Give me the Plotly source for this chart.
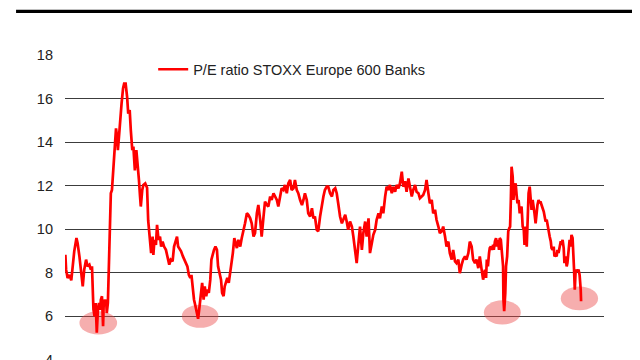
import plotly.graph_objects as go

# Decimal years and P/E ratio values
year = [
    2008.34, 2008.36, 2008.40, 2008.45, 2008.50, 2008.55, 2008.58, 2008.64, 2008.67, 2008.72,
    2008.76, 2008.81, 2008.85, 2008.90, 2008.94, 2008.99, 2009.03, 2009.06, 2009.09, 2009.10,
    2009.13, 2009.16, 2009.18, 2009.19, 2009.22, 2009.25, 2009.28, 2009.30, 2009.33, 2009.36,
    2009.38, 2009.41, 2009.44, 2009.46, 2009.49, 2009.52, 2009.55, 2009.57, 2009.60, 2009.63,
    2009.65, 2009.68, 2009.71, 2009.74, 2009.76, 2009.79, 2009.82, 2009.86, 2009.90, 2009.93,
    2009.97, 2010.01, 2010.04, 2010.08, 2010.11, 2010.15, 2010.18, 2010.22, 2010.26, 2010.29,
    2010.33, 2010.36, 2010.38, 2010.42, 2010.45, 2010.50, 2010.55, 2010.58, 2010.63, 2010.66,
    2010.70, 2010.72, 2010.75, 2010.79, 2010.82, 2010.86, 2010.90, 2010.93, 2010.97, 2011.01,
    2011.06, 2011.10, 2011.15, 2011.19, 2011.24, 2011.28, 2011.31, 2011.36, 2011.39, 2011.44,
    2011.47, 2011.52, 2011.56, 2011.60, 2011.64, 2011.68, 2011.72, 2011.75, 2011.79, 2011.82,
    2011.86, 2011.90, 2011.93, 2011.97, 2012.01, 2012.04, 2012.08, 2012.11, 2012.15, 2012.18,
    2012.22, 2012.26, 2012.29, 2012.33, 2012.36, 2012.40, 2012.44, 2012.47, 2012.51, 2012.55,
    2012.58, 2012.62, 2012.65, 2012.69, 2012.72, 2012.76, 2012.80, 2012.83, 2012.87, 2012.91,
    2012.98, 2013.02, 2013.07, 2013.11, 2013.16, 2013.20, 2013.25, 2013.29, 2013.34, 2013.38,
    2013.43, 2013.47, 2013.52, 2013.56, 2013.61, 2013.65, 2013.70, 2013.74, 2013.79, 2013.83,
    2013.88, 2013.92, 2013.97, 2014.01, 2014.06, 2014.10, 2014.15, 2014.19, 2014.24, 2014.28,
    2014.33, 2014.37, 2014.42, 2014.46, 2014.51, 2014.55, 2014.60, 2014.64, 2014.69, 2014.74,
    2014.78, 2014.82, 2014.87, 2014.91, 2014.96, 2015.01, 2015.05, 2015.09, 2015.14, 2015.18,
    2015.23, 2015.28, 2015.32, 2015.36, 2015.41, 2015.45, 2015.50, 2015.55, 2015.59, 2015.64,
    2015.68, 2015.72, 2015.77, 2015.82, 2015.86, 2015.91, 2015.95, 2015.99, 2016.04, 2016.09,
    2016.13, 2016.18, 2016.22, 2016.26, 2016.31, 2016.36, 2016.40, 2016.45, 2016.49, 2016.54,
    2016.58, 2016.63, 2016.67, 2016.72, 2016.76, 2016.81, 2016.85, 2016.90, 2016.94, 2016.99,
    2017.03, 2017.08, 2017.12, 2017.17, 2017.21, 2017.26, 2017.30, 2017.35, 2017.39, 2017.44,
    2017.48, 2017.53, 2017.57, 2017.62, 2017.66, 2017.71, 2017.75, 2017.80, 2017.84, 2017.89,
    2017.93, 2017.98, 2018.02, 2018.07, 2018.11, 2018.16, 2018.20, 2018.25, 2018.29, 2018.34,
    2018.38, 2018.43, 2018.47, 2018.52, 2018.56, 2018.61, 2018.65, 2018.70, 2018.74, 2018.79,
    2018.83, 2018.88, 2018.92, 2018.97, 2019.01, 2019.06, 2019.10, 2019.15, 2019.19, 2019.24,
    2019.28, 2019.33, 2019.37, 2019.42, 2019.46, 2019.51, 2019.55, 2019.60, 2019.64, 2019.69,
    2019.72, 2019.74, 2019.77, 2019.80, 2019.82, 2019.85, 2019.88, 2019.91, 2019.93, 2019.96,
    2019.99, 2020.01, 2020.04, 2020.07, 2020.09, 2020.12, 2020.15, 2020.18, 2020.19, 2020.21,
    2020.24, 2020.26, 2020.29, 2020.32, 2020.35, 2020.37, 2020.39, 2020.41, 2020.44, 2020.46,
    2020.49, 2020.52, 2020.55, 2020.57, 2020.60, 2020.63, 2020.65, 2020.68, 2020.71, 2020.74,
    2020.76, 2020.79, 2020.82, 2020.84, 2020.87, 2020.90, 2020.92, 2020.95, 2020.98, 2021.01,
    2021.03, 2021.06, 2021.09, 2021.11, 2021.14, 2021.17, 2021.19, 2021.22, 2021.25, 2021.28,
    2021.30, 2021.33, 2021.36, 2021.38, 2021.41, 2021.44, 2021.47, 2021.49, 2021.52, 2021.55,
    2021.57, 2021.60, 2021.63, 2021.65, 2021.68, 2021.71, 2021.74, 2021.76, 2021.79, 2021.82,
    2021.84, 2021.87, 2021.90, 2021.92, 2021.95, 2021.98, 2022.01, 2022.03, 2022.06, 2022.08,
    2022.10, 2022.12, 2022.14, 2022.17, 2022.19, 2022.22, 2022.25, 2022.28, 2022.29,
]

pe_ratio = [
    8.82, 8.14, 7.76, 7.90, 7.65, 8.75, 8.98, 9.59, 9.36, 8.75,
    8.14, 7.37, 8.14, 8.60, 8.29, 8.37, 8.14, 8.29, 6.76, 6.30,
    6.00, 6.61, 5.70, 5.24, 6.30, 6.61, 6.30, 6.76, 6.92, 5.54,
    6.76, 6.61, 6.76, 6.15, 6.61, 8.75, 10.10, 11.65, 11.80, 12.70,
    13.33, 13.80, 14.63, 14.24, 13.63, 14.24, 15.00, 15.77, 16.46, 16.69,
    16.69, 16.08, 15.31, 15.47, 14.55, 13.63, 13.79, 12.70, 13.63, 13.17,
    12.26, 11.50, 11.04, 11.80, 12.03, 12.10, 11.90, 10.40, 9.20, 8.90,
    9.66, 8.82, 9.51, 9.28, 10.20, 9.51, 9.66, 9.20, 9.43, 9.20,
    9.05, 8.75, 8.37, 8.60, 8.52, 9.20, 9.43, 9.66, 9.20, 9.05,
    8.98, 8.75, 8.60, 8.37, 8.29, 7.90, 7.76, 7.90, 7.22, 6.76,
    6.46, 6.15, 5.88, 6.46, 7.07, 7.53, 6.76, 7.37, 6.92, 7.22,
    7.07, 7.68, 8.60, 8.90, 9.05, 9.20, 9.05, 8.29, 7.98, 7.68,
    7.07, 6.92, 7.37, 7.68, 7.76, 7.53, 7.98, 8.44, 8.90, 9.59,
    9.13, 9.51, 9.20, 9.58, 9.90, 10.27, 10.73, 10.66, 10.50, 10.27,
    9.66, 9.82, 10.73, 11.11, 10.43, 9.66, 10.58, 11.27, 11.11, 11.04,
    11.50, 11.34, 11.65, 11.50, 11.34, 11.04, 11.50, 11.88, 11.80, 12.03,
    11.65, 12.10, 12.26, 11.80, 11.88, 12.26, 11.80, 11.65, 11.34, 11.11,
    11.34, 11.65, 11.34, 10.73, 10.58, 10.96, 10.50, 10.58, 9.97, 9.90,
    10.58, 11.19, 11.50, 11.80, 11.95, 11.95, 11.65, 11.50, 11.80, 11.88,
    11.65, 11.19, 10.58, 10.27, 10.43, 10.66, 10.35, 9.97, 10.35, 10.12,
    9.66, 9.05, 8.44, 9.20, 10.12, 9.05, 9.82, 10.35, 9.66, 10.50,
    8.90, 9.36, 9.74, 9.97, 10.43, 10.73, 10.50, 11.04, 10.73, 11.50,
    11.95, 11.80, 12.03, 11.65, 11.95, 11.72, 12.03, 11.88, 12.10, 12.64,
    11.95, 12.20, 11.72, 12.33, 11.95, 11.50, 11.80, 12.03, 11.72, 11.65,
    11.42, 11.50, 11.57, 11.80, 12.26, 11.65, 11.19, 11.34, 10.73, 10.89,
    10.43, 10.12, 9.82, 9.90, 10.12, 9.66, 9.20, 9.43, 8.90, 8.60,
    9.05, 8.52, 8.44, 8.60, 7.98, 8.37, 8.60, 8.75, 8.60, 8.90,
    9.43, 9.20, 8.60, 8.44, 8.60, 8.21, 8.75, 8.14, 7.68, 8.14,
    7.76, 8.60, 8.29, 8.90, 9.13, 9.20, 9.05, 9.28, 9.05, 9.44,
    9.59, 9.20, 9.51, 9.05, 9.59, 9.51, 9.05, 8.29, 6.76, 6.23,
    7.07, 8.29, 8.75, 9.90, 10.05, 10.12, 11.34, 12.87, 12.41, 11.34,
    11.95, 12.10, 11.50, 11.19, 11.34, 10.73, 10.89, 11.04, 10.12, 9.97,
    9.28, 10.12, 9.20, 10.73, 11.65, 11.95, 11.50, 10.89, 11.34, 11.04,
    10.73, 10.27, 10.96, 11.11, 11.34, 11.19, 11.27, 11.04, 10.96, 10.81,
    10.50, 10.35, 10.43, 10.20, 9.97, 9.66, 9.44, 9.13, 9.05, 9.20,
    8.75, 8.82, 8.75, 9.05, 8.90, 9.13, 9.44, 9.28, 9.51, 9.13,
    8.44, 8.75, 8.29, 8.44, 9.05, 9.51, 9.20, 9.74, 9.59, 9.05,
    8.14, 7.22, 8.00, 8.14, 8.06, 8.14, 7.90, 7.22, 6.69,
]

series_name = "P/E ratio STOXX Europe 600 Banks"

y_ticks = [4, 6, 8, 10, 12, 14, 16, 18]

# Highlighted lows: (start year, end year, low P/E, high P/E)
highlight_start = [2008.72, 2011.49, 2019.66, 2021.74]
highlight_end = [2009.74, 2012.48, 2020.66, 2022.75]
highlight_low = [5.16, 5.47, 5.62, 6.27]
highlight_high = [6.23, 6.53, 6.73, 7.37]

fig = go.Figure()
fig.add_trace(go.Scatter(
    x=year, y=pe_ratio, mode="lines", name=series_name,
    line=dict(color="#ff0000", width=2.7),
    showlegend=True,
))

shapes = []
for x0, x1, y0, y1 in zip(highlight_start, highlight_end, highlight_low, highlight_high):
    shapes.append(dict(
        type="circle", xref="x", yref="y", x0=x0, x1=x1, y0=y0, y1=y1,
        fillcolor="rgba(235,70,70,0.44)", line=dict(width=0), layer="between",
    ))
# thick black rule across the top of the page
shapes.append(dict(
    type="line", xref="paper", yref="paper",
    x0=-0.0908, x1=1.1, y0=1.143, y1=1.143,
    line=dict(color="#000000", width=3.2),
))

fig.update_layout(
    width=640, height=360,
    margin=dict(l=56.7, r=43.7, t=46.7, b=7.6, pad=0),
    paper_bgcolor="white", plot_bgcolor="white",
    font=dict(family="Liberation Sans, Arial, sans-serif", size=14.5, color="#222222"),
    shapes=shapes,
    showlegend=True,
    legend=dict(
        x=0.1636, y=0.953, xanchor="left", yanchor="middle",
        bgcolor="rgba(0,0,0,0)", borderwidth=0,
        font=dict(size=14.5, color="#222222"),
        itemwidth=30,
    ),
    xaxis=dict(
        visible=False, range=[2008.33, 2022.91], showgrid=False, zeroline=False,
    ),
    yaxis=dict(
        range=[3.99, 18], tickvals=y_ticks, ticktext=[str(v) for v in y_ticks],
        showgrid=True, gridcolor="#3c3c3c", gridwidth=1.1,
        zeroline=False, showline=False, ticks="",
        ticklabelstandoff=11, automargin=False,
        tickfont=dict(size=14.5, color="#222222"),
    ),
)

fig.write_html("out.html")
